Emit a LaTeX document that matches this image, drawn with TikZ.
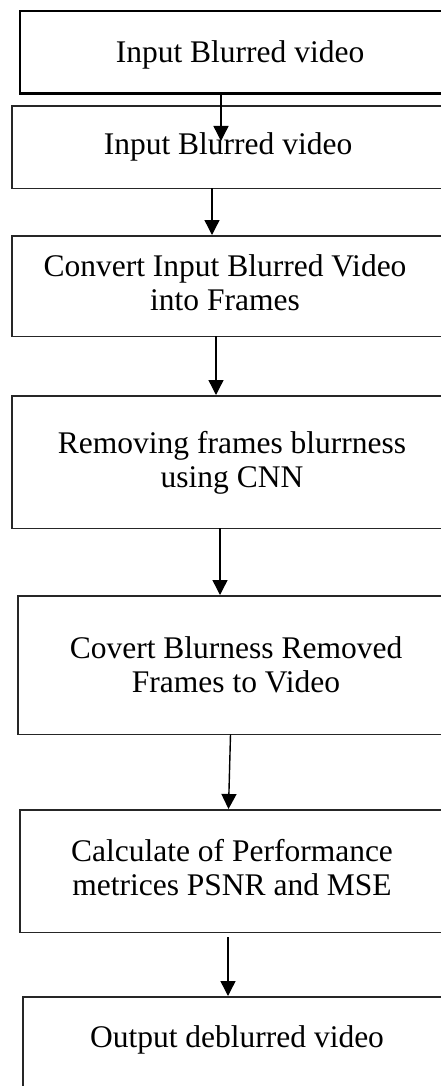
\documentclass[tikz,border=0pt]{standalone}
\usepackage{fontspec}
\setmainfont{Liberation Serif}
\usetikzlibrary{arrows.meta}
\tikzset{
  box/.style={rectangle, anchor=north west, minimum width=600pt, inner sep=0pt},
  boxline/.style={draw=black!85, line width=1.6pt, line join=miter},
  firstline/.style={draw=black, line width=2.6pt, line join=miter},
  lbl/.style={align=center, inner sep=0pt, font=\fontsize{31.5}{34}\selectfont},
  conn/.style={draw=black, line width=1.4pt, -{Triangle[width=15pt,length=15pt]}}
}
\begin{document}
\begin{tikzpicture}[x=1pt,y=-1pt]
\useasboundingbox (0,0) rectangle (441,1086);
\fill[white] (0,0) rectangle (441,1086);
% boxes (their right parts run past the picture's edge, as in the reference)
\node[box, minimum height=82pt]  (b1) at (20,11) {};
\node[box, minimum height=82pt]  (b2) at (12,106) {};
\node[box, minimum height=100pt] (b3) at (12,236) {};
\node[box, minimum height=132pt] (b4) at (12,396) {};
\node[box, minimum height=138pt] (b5) at (18,596) {};
\node[box, minimum height=122pt] (b6) at (20,810) {};
\node[box, minimum height=130pt] (b7) at (23,997) {};
\begin{scope}
\clip (0,0) rectangle (441,1086);
\draw[firstline] (b1.north east) -- (b1.north west) -- (b1.south west) -- (b1.south east);
\foreach \b in {b2,b3,b4,b5,b6,b7}
  \draw[boxline] (\b.north east) -- (\b.north west) -- (\b.south west) -- (\b.south east);
\end{scope}
% texts
\node[lbl] (t1) at (240,55) {Input Blurred video};
\node[lbl] (t2) at (228,147) {Input Blurred video};
\node[lbl] (t3) at (225,283) {Convert Input Blurred Video\\into Frames};
\node[lbl] (t4) at (232,463) {Removing frames blurrness\\using CNN};
\node[lbl] (t5) at (236,665) {Covert Blurness Removed\\Frames to Video};
\node[lbl] (t6) at (232,868) {Calculate of Performance\\metrices PSNR and MSE};
\node[lbl] (t7) at (237,1040) {Output deblurred video};
% connector x positions
\coordinate (x1) at (221,0);
\coordinate (x2) at (212,0);
\coordinate (x3) at (216,0);
\coordinate (x4) at (220,0);
\coordinate (x5s) at (230.5,0);
\coordinate (x5e) at (228.5,0);
\coordinate (x6) at (228,0);
\coordinate (a1e) at (221,141);
\coordinate (a6s) at (228,937);
\draw[conn] (b1.south -| x1) -- (a1e);
\draw[conn] (b2.south -| x2) -- ([yshift=1pt]b3.north -| x2);
\draw[conn] (b3.south -| x3) -- ([yshift=1pt]b4.north -| x3);
\draw[conn] (b4.south -| x4) -- ([yshift=1pt]b5.north -| x4);
\draw[conn] (b5.south -| x5s) -- ([yshift=1pt]b6.north -| x5e);
\draw[conn] (a6s) -- ([yshift=1pt]b7.north -| x6);
\end{tikzpicture}
\end{document}
